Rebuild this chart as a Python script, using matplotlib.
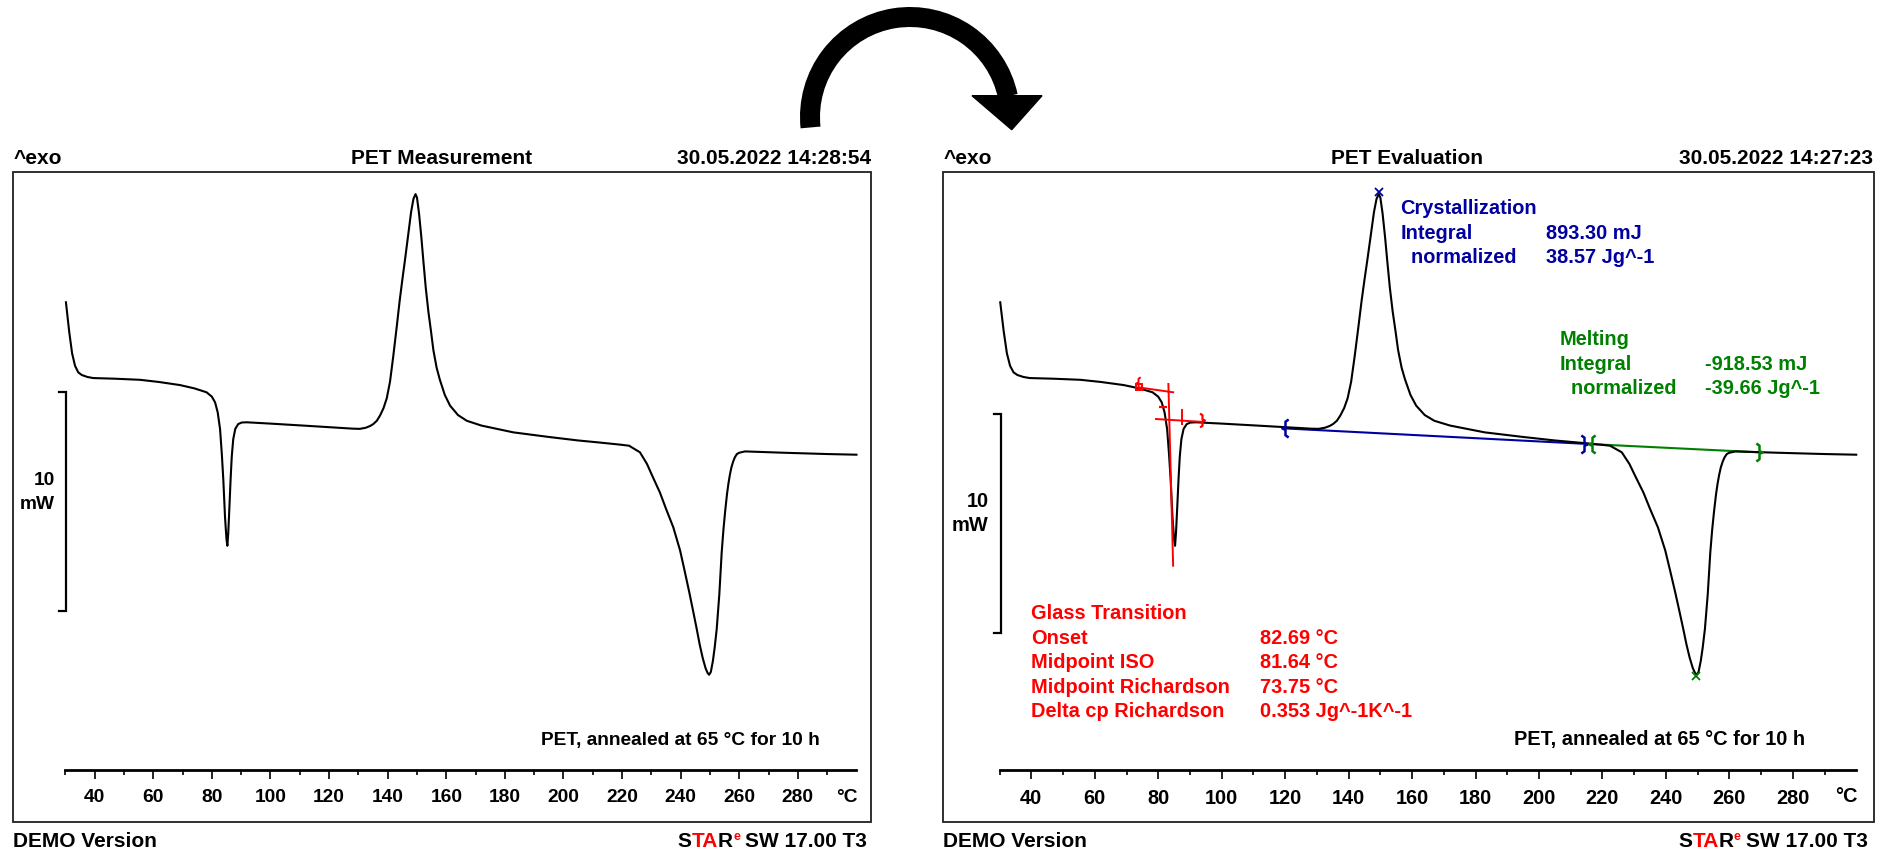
import matplotlib
matplotlib.use('Agg')
import matplotlib.pyplot as plt
from matplotlib.patches import Arc, Polygon, Rectangle
from matplotlib.path import Path

plt.rcParams['font.family'] = ['Liberation Sans', 'DejaVu Sans']
plt.rcParams['font.weight'] = 'bold'

# DSC-Kurve PET: Temperatur in °C, Wärmestrom in mW (exo nach oben)
temp = [30.2, 31.3, 32.3, 33.3, 34.4, 35.6, 37.5, 39.5, 47.0, 55.5, 62.0, 69.1, 74.0, 78.2,
        80.0, 81.1, 82.0, 82.8, 83.4, 83.9, 84.5, 85.0, 85.3, 85.6, 86.0, 86.4, 86.8, 87.3,
        88.0, 89.0, 90.2, 91.9, 100.0, 112.4, 122.0, 128.0, 130.5, 132.5, 134.0, 135.1,
        136.3, 137.4, 138.6, 139.7, 140.8, 141.9, 143.0, 144.1, 145.0, 145.9, 147.0, 148.0,
        148.8, 149.5, 150.0, 150.7, 151.5, 152.2, 153.0, 153.9, 154.8, 155.6, 156.7, 157.8,
        159.5, 161.3, 164.0, 167.0, 172.0, 182.9, 195.0, 205.0, 212.0, 219.3, 222.4, 224.0,
        226.1, 228.5, 230.5, 232.9, 235.0, 237.5, 239.8, 241.3, 243.0, 244.3, 245.5, 246.5,
        247.5, 248.5, 249.2, 249.7, 250.3, 251.0, 251.6, 252.3, 253.2, 254.0, 254.6, 255.2,
        255.8, 256.3, 256.8, 257.3, 257.9, 258.5, 259.2, 260.0, 262.0, 275.0, 290.0, 300.0]
heat_flow = [6.93, 5.60, 4.60, 4.03, 3.73, 3.61, 3.52, 3.47, 3.44, 3.39, 3.29, 3.15, 3.00, 2.82,
             2.62, 2.36, 1.90, 1.14, 0.00, -1.14, -2.90, -3.90, -4.19, -3.60, -2.40, -1.14, -0.10, 0.68,
             1.15, 1.37, 1.44, 1.45, 1.39, 1.29, 1.21, 1.16, 1.15, 1.20, 1.28, 1.37,
             1.52, 1.76, 2.10, 2.55, 3.30, 4.45, 5.70, 7.00, 7.95, 8.85, 10.00, 11.05,
             11.65, 11.87, 11.72, 11.00, 9.90, 8.80, 7.60, 6.50, 5.60, 4.75, 3.95, 3.40,
             2.70, 2.21, 1.78, 1.52, 1.30, 0.99, 0.78, 0.62, 0.53, 0.43, 0.38, 0.25,
             0.08, -0.45, -1.05, -1.75, -2.50, -3.35, -4.40, -5.30, -6.35, -7.20, -8.00, -8.70,
             -9.30, -9.78, -10.00, -10.08, -9.95, -9.45, -8.85, -8.00, -6.40, -4.50, -3.45, -2.60,
             -1.85, -1.35, -0.95, -0.62, -0.35, -0.15, 0.00, 0.06, 0.12, 0.06, 0.00, -0.03]

major_ticks = [40, 60, 80, 100, 120, 140, 160, 180, 200, 220, 240, 260, 280]
minor_ticks = [30, 50, 70, 90, 110, 130, 150, 170, 190, 210, 230, 250, 270, 290]

# Auswertung: Basislinien und Peakpunkte
cryst_base_t = [120.0, 215.5]
cryst_base_hf = [1.17, 0.46]
melt_base_t = [215.5, 269.2]
melt_base_hf = [0.46, 0.08]
cryst_peak = (149.5, 11.96)
melt_peak = (249.6, -10.12)

# Glasübergang: Tangenten
tg_tan1_t = [74.0, 84.7]
tg_tan1_hf = [3.04, 2.82]
tg_infl_t = [83.2, 84.7]
tg_infl_hf = [3.20, -5.10]
tg_tan2_t = [79.3, 93.7]
tg_tan2_hf = [1.60, 1.47]
tg_mid_t = [87.4, 87.4]
tg_mid_hf = [2.02, 1.37]

cryst_lines = ['Crystallization', 'Integral', '  normalized']
cryst_vals = ['', '893.30 mJ', '38.57 Jg^-1']
melt_lines = ['Melting', 'Integral', '  normalized']
melt_vals = ['', '-918.53 mJ', '-39.66 Jg^-1']
tg_lines = ['Glass Transition', 'Onset', 'Midpoint ISO', 'Midpoint Richardson', 'Delta cp Richardson']
tg_vals = ['', '82.69 °C', '81.64 °C', '73.75 °C', '0.353 Jg^-1K^-1']

star_parts = ['S', 'TA', 'R', 'e', 'SW 17.00 T3']
star_colors = ['black', 'red', 'black', 'red', 'black']

BLUE = '#0000a0'
GREEN = '#008000'
RED = '#ff0000'

W, H = 1885, 854
fig = plt.figure(figsize=(W / 100, H / 100), dpi=100)
fig.patch.set_facecolor('white')

# Overlay in Pixelkoordinaten für Kopf-/Fußzeilen und den Pfeil
ov = fig.add_axes([0, 0, 1, 1])
ov.set_xlim(0, W)
ov.set_ylim(H, 0)
ov.axis('off')
ov.patch.set_visible(False)

brace_l = Path([(0.35, 1), (0, 0.75), (0, 0.15), (-0.35, 0), (0, -0.15), (0, -0.75), (0.35, -1)])
brace_r = Path([(-0.35, 1), (0, 0.75), (0, 0.15), (0.35, 0), (0, -0.15), (0, -0.75), (-0.35, -1)])


def panel(x0, x1, xlim, bar_x, bar_top, fs):
    top, bot = 173, 822.7
    ax = fig.add_axes([x0 / W, (H - bot) / H, (x1 - x0) / W, (bot - top) / H])
    ax.plot(temp, heat_flow, color='black', lw=1.5, zorder=3)
    ax.set_xlim(*xlim)
    ax.set_ylim(-16.79, 12.88)
    for s in ['top', 'left', 'right']:
        ax.spines[s].set_visible(False)
    ax.spines['bottom'].set_position(('axes', 0.08))
    ax.spines['bottom'].set_bounds(30, 300)
    ax.spines['bottom'].set_linewidth(2.0)
    ax.set_xticks(major_ticks)
    ax.set_xticks(minor_ticks, minor=True)
    ax.tick_params(axis='x', which='major', direction='out', length=6.3, width=1.2, pad=6.6, labelsize=fs)
    ax.tick_params(axis='x', which='minor', direction='out', length=3.8, width=1.2)
    ax.set_yticks([])
    ax.add_patch(Rectangle((0, 0), 1, 1, transform=ax.transAxes, fill=False, lw=1.3,
                           ec='#202020', clip_on=False))
    ax.text(300.3, 0.0314, '°C', transform=ax.get_xaxis_transform(), ha='right', va='baseline', fontsize=fs)
    ax.text(192.2, -13.24, 'PET, annealed at 65 °C for 10 h', ha='left', va='baseline', fontsize=fs)
    # 10-mW-Skalenbalken
    ax.plot([bar_x - 2.2, bar_x, bar_x, bar_x - 2.2], [bar_top, bar_top, bar_top - 10, bar_top - 10],
            color='black', lw=1.6, solid_joinstyle='miter')
    ax.text(bar_x - 3.8, bar_top - 3.96, '10', ha='right', va='center', fontsize=fs)
    ax.text(bar_x - 3.8, bar_top - 5.08, 'mW', ha='right', va='center', fontsize=fs)
    return ax


def header(xl, xc, xr, title, stamp):
    ov.text(xl, 163.8, '^exo', ha='left', va='baseline', fontsize=15)
    ov.text(xc, 163.8, title, ha='center', va='baseline', fontsize=15)
    ov.text(xr, 163.8, stamp, ha='right', va='baseline', fontsize=15)


def footer(xl, xr):
    ov.text(xl, 847.3, 'DEMO Version', ha='left', va='baseline', fontsize=15)
    r = fig.canvas.get_renderer()
    x = xr
    for s, c in reversed(list(zip(star_parts, star_colors))):
        if s == 'e':
            t = ov.text(x, 840.0, s, color=c, fontsize=9, ha='right', va='baseline')
        else:
            t = ov.text(x, 847.3, s, color=c, fontsize=15, ha='right', va='baseline')
        x -= t.get_window_extent(r).width
        if s.startswith('SW'):
            x -= 5


# linkes Diagramm: Messung
left = panel(13.2, 871.4, (12.2, 305.1), 30.2, 2.82, 13.8)
header(13.2, 441.7, 871.4, 'PET Measurement', '30.05.2022 14:28:54')
footer(13.2, 866.8)

# rechtes Diagramm: Auswertung
right = panel(942.8, 1874.0, (12.1, 305.6), 30.4, 1.85, 14.4)
header(943.4, 1406.6, 1872.6, 'PET Evaluation', '30.05.2022 14:27:23')
footer(942.8, 1867.7)

right.plot(cryst_base_t, cryst_base_hf, color=BLUE, lw=1.5, zorder=2)
right.plot(melt_base_t, melt_base_hf, color=GREEN, lw=1.5, zorder=2)
right.plot(*cryst_peak, marker='x', color=BLUE, ms=6, mew=1.3, zorder=4)
right.plot(*melt_peak, marker='x', color=GREEN, ms=6, mew=1.3, zorder=4)
right.plot(cryst_base_t[0], cryst_base_hf[0], marker=brace_l, color=BLUE, ms=13, mfc='none', mew=1.8, zorder=4)
right.plot(cryst_base_t[1] - 1.2, cryst_base_hf[1], marker=brace_r, color=BLUE, ms=13, mfc='none', mew=1.8, zorder=4)
right.plot(melt_base_t[0] + 1.3, melt_base_hf[0], marker=brace_l, color=GREEN, ms=13, mfc='none', mew=1.8, zorder=4)
right.plot(melt_base_t[1], melt_base_hf[1], marker=brace_r, color=GREEN, ms=13, mfc='none', mew=1.8, zorder=4)

for xs, ys in [(tg_tan1_t, tg_tan1_hf), (tg_infl_t, tg_infl_hf), (tg_tan2_t, tg_tan2_hf), (tg_mid_t, tg_mid_hf)]:
    right.plot(xs, ys, color=RED, lw=1.4, zorder=4)
right.plot(tg_tan1_t[0], tg_tan1_hf[0], marker='s', color=RED, ms=5, mfc='none', mew=1.4, zorder=5)
right.plot(tg_tan1_t[0] - 0.3, tg_tan1_hf[0] + 0.2, marker=brace_l, color=RED, ms=9, mfc='none', mew=1.4, zorder=5)
right.plot(81.6, 2.13, marker='_', color=RED, ms=6, mew=1.6, zorder=5)
right.plot(tg_tan2_t[1], tg_tan2_hf[1] + 0.08, marker=brace_r, color=RED, ms=10, mfc='none', mew=1.6, zorder=5)

for i, (a, b) in enumerate(zip(cryst_lines, cryst_vals)):
    y = 10.99 - i * 1.11
    right.text(156.3, y, a, color=BLUE, ha='left', va='baseline', fontsize=14.4)
    right.text(202.2, y, b, color=BLUE, ha='left', va='baseline', fontsize=14.4)
for i, (a, b) in enumerate(zip(melt_lines, melt_vals)):
    y = 5.01 - i * 1.11
    right.text(206.6, y, a, color=GREEN, ha='left', va='baseline', fontsize=14.4)
    right.text(252.2, y, b, color=GREEN, ha='left', va='baseline', fontsize=14.4)
for i, (a, b) in enumerate(zip(tg_lines, tg_vals)):
    y = -7.50 - i * 1.115
    right.text(39.8, y, a, color=RED, ha='left', va='baseline', fontsize=14.4)
    right.text(112.0, y, b, color=RED, ha='left', va='baseline', fontsize=14.4)

# geschwungener Pfeil zwischen den Diagrammen
ov.add_patch(Arc((910, 118), 200, 200, theta1=174, theta2=348, lw=14.4, color='black', capstyle='butt'))
ov.add_patch(Polygon([(972, 96.7), (1042, 96.7), (1011.7, 130.7)], closed=True, color='black'))

fig.savefig('out.png', dpi=100, facecolor='white')
